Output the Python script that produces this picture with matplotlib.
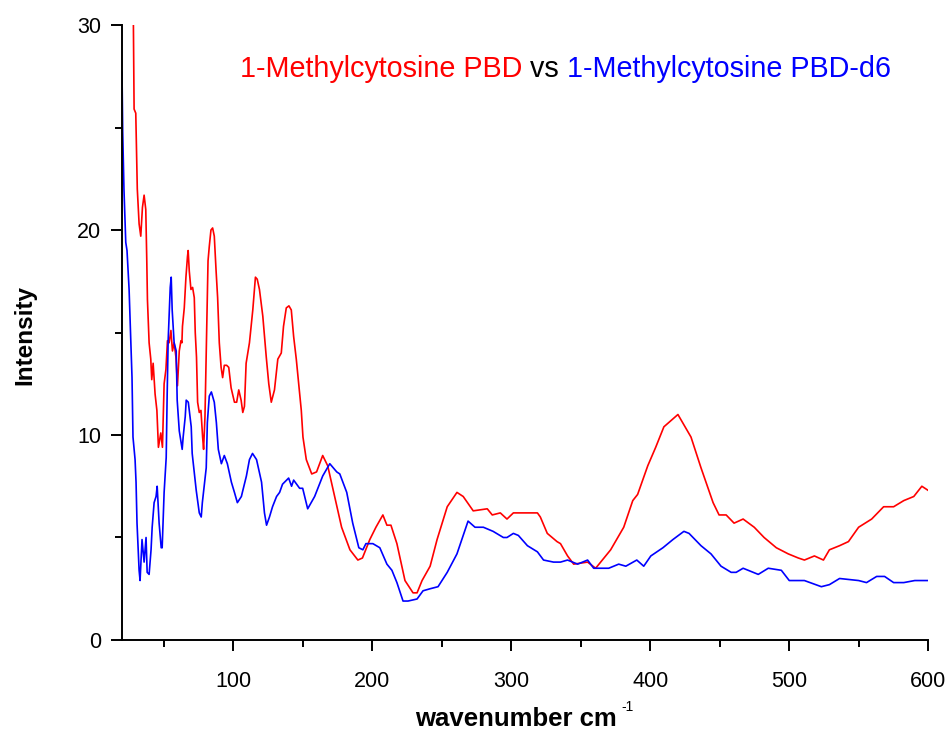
import matplotlib
matplotlib.use('Agg')
import matplotlib.pyplot as plt
from matplotlib.ticker import MultipleLocator

plt.rcParams['font.family'] = ['Liberation Sans', 'DejaVu Sans']

# 1-Methylcytosine PBD (red)
red_x = [28.2, 28.7, 29.9, 30.3, 31.0, 32.3, 33.5, 34.7, 35.9, 37.1, 37.8, 38.3, 39.5, 40.7,
         41.4, 42.4, 43.8, 45.1, 46.2, 47.9, 49.1, 50.3, 51.6, 52.7, 53.9, 55.2, 56.3, 57.5,
         58.8, 59.9, 61.2, 62.4, 63.1, 63.5, 64.8, 66.0, 67.1, 67.6, 68.4, 69.6, 70.8, 72.0,
         72.7, 73.6, 74.4, 75.6, 76.8, 78.0, 78.7, 79.7, 80.9, 81.9, 82.8, 84.0, 85.2, 86.4,
         87.7, 88.8, 90.0, 91.3, 92.4, 93.6, 95.3, 96.8, 98.5, 100.9, 102.5, 104.0, 105.7,
         106.9, 108.1, 109.3, 111.7, 114.1, 116.0, 117.3, 118.9, 121.3, 123.8, 125.6, 127.4,
         129.7, 132.1, 134.6, 136.2, 138.2, 140.1, 141.8, 143.5, 145.4, 147.8, 149.0, 150.2,
         152.6, 156.5, 160.0, 164.4, 168.0, 173.0, 178.0, 184.0, 189.7, 193.0, 198.3, 202.7,
         207.7, 210.6, 213.5, 217.8, 223.6, 229.4, 232.3, 235.9, 241.7, 246.7, 254.0, 261.0,
         265.5, 272.7, 282.8, 286.4, 292.2, 297.0, 301.6, 318.9, 321.0, 326.0, 333.0, 335.5,
         340.6, 345.0, 355.0, 360.8, 364.4, 371.6, 381.0, 387.5, 391.0, 398.3, 404.0, 409.9,
         420.0, 429.4, 436.6, 445.3, 449.6, 454.7, 460.4, 466.9, 474.9, 482.0, 490.8, 499.4,
         506.6, 511.0, 518.2, 524.7, 529.0, 536.3, 542.7, 550.0, 559.4, 568.0, 575.2, 582.5,
         589.7, 595.5, 600.0]
red_y = [30.0, 25.9, 25.7, 24.4, 22.0, 20.3, 19.7, 21.1, 21.7, 21.0, 18.6, 16.6, 14.5, 13.7,
         12.7, 13.5, 12.0, 11.2, 9.4, 10.1, 9.4, 12.5, 13.2, 14.6, 14.5, 15.1, 14.1, 14.5,
         13.8, 12.4, 14.1, 14.6, 14.5, 15.3, 16.2, 17.7, 18.7, 19.0, 18.0, 17.1, 17.2, 16.7,
         15.0, 13.8, 11.6, 11.1, 11.2, 9.9, 9.3, 10.9, 15.0, 18.5, 19.2, 20.0, 20.1, 19.7,
         18.0, 16.7, 14.5, 13.3, 12.8, 13.4, 13.4, 13.3, 12.3, 11.6, 11.6, 12.2, 11.7,
         11.1, 11.4, 13.5, 14.5, 16.1, 17.7, 17.6, 17.1, 15.8, 13.8, 12.5, 11.6,
         12.2, 13.7, 14.0, 15.3, 16.2, 16.3, 16.1, 14.8, 13.7, 12.0, 11.2, 9.9,
         8.8, 8.1, 8.2, 9.0, 8.5, 7.0, 5.5, 4.4, 3.9, 4.0, 4.9, 5.5,
         6.1, 5.6, 5.6, 4.7, 2.9, 2.3, 2.3, 2.9, 3.6, 4.9, 6.5, 7.2,
         7.0, 6.3, 6.4, 6.1, 6.2, 5.9, 6.2, 6.2, 6.0, 5.2, 4.8, 4.7,
         4.1, 3.7, 3.8, 3.5, 3.8, 4.4, 5.5, 6.8, 7.1, 8.5, 9.4, 10.4,
         11.0, 9.9, 8.4, 6.7, 6.1, 6.1, 5.7, 5.9, 5.5, 5.0, 4.5, 4.2,
         4.0, 3.9, 4.1, 3.9, 4.4, 4.6, 4.8, 5.5, 5.9, 6.5, 6.5, 6.8,
         7.0, 7.5, 7.3]

# 1-Methylcytosine PBD-d6 (blue)
blue_x = [20.0, 20.5, 21.4, 22.7, 23.6, 25.1, 26.5, 27.2, 27.9, 29.4, 30.1, 30.8, 32.3, 33.0,
          34.4, 35.9, 37.3, 38.1, 39.5, 40.9, 41.7, 43.1, 44.5, 45.3, 46.7, 48.2, 48.9, 50.3,
          51.8, 52.5, 53.2, 54.7, 55.4, 56.1, 57.5, 59.0, 59.7, 61.2, 63.3, 64.0, 65.5, 66.2,
          67.7, 69.8, 70.5, 73.4, 75.6, 77.0, 77.8, 80.6, 81.4, 82.8, 84.3, 86.4, 87.9, 89.3,
          91.5, 93.6, 95.8, 98.7, 100.9, 103.0, 105.9, 106.6, 109.5, 111.7, 113.9, 116.8,
          120.4, 122.5, 124.0, 126.1, 128.3, 131.2, 133.4, 135.5, 139.9, 142.0, 143.5, 147.8,
          150.0, 153.6, 158.6, 164.4, 169.5, 174.5, 176.7, 181.7, 186.0, 190.4, 193.3, 195.5,
          200.5, 205.5, 210.6, 214.2, 217.8, 222.2, 225.8, 232.3, 236.6, 241.7, 247.4, 254.0,
          261.0, 269.0, 274.0, 280.0, 287.0, 294.4, 297.0, 301.6, 305.2, 311.7, 318.9, 323.3,
          330.5, 335.5, 340.6, 347.8, 355.0, 359.4, 364.4, 370.2, 377.4, 382.5, 390.4, 395.4,
          400.5, 409.2, 416.4, 424.3, 428.0, 436.6, 443.8, 451.0, 458.3, 461.9, 466.9, 477.8,
          485.0, 494.4, 500.1, 511.0, 523.2, 529.0, 536.3, 550.0, 555.7, 563.0, 568.7, 575.2,
          582.5, 590.4, 600.0]
blue_y = [27.7, 24.8, 22.0, 19.4, 19.0, 17.1, 14.3, 12.8, 9.9, 8.8, 7.7, 5.7, 3.4, 2.9,
          4.9, 3.8, 5.0, 3.3, 3.2, 4.4, 5.5, 6.7, 7.0, 7.5, 5.7, 4.5, 4.5, 7.2,
          8.9, 12.0, 14.6, 17.2, 17.7, 16.1, 14.5, 14.1, 11.7, 10.2, 9.3, 9.9, 10.9, 11.7,
          11.6, 10.4, 9.1, 7.3, 6.2, 6.0, 6.7, 8.4, 10.6, 11.9, 12.1, 11.6, 10.6, 9.3,
          8.6, 9.0, 8.6, 7.7, 7.2, 6.7, 7.0, 7.2, 8.0, 8.8, 9.1, 8.8,
          7.7, 6.2, 5.6, 6.0, 6.5, 7.0, 7.2, 7.6, 7.9, 7.5, 7.8, 7.4,
          7.4, 6.4, 7.0, 8.0, 8.6, 8.2, 8.1, 7.2, 5.7, 4.5, 4.4, 4.7,
          4.7, 4.5, 3.7, 3.4, 2.8, 1.9, 1.9, 2.0, 2.4, 2.5, 2.6, 3.3,
          4.2, 5.8, 5.5, 5.5, 5.3, 5.0, 5.0, 5.2, 5.1, 4.6, 4.3, 3.9,
          3.8, 3.8, 3.9, 3.7, 3.9, 3.5, 3.5, 3.5, 3.7, 3.6, 3.9, 3.6,
          4.1, 4.5, 4.9, 5.3, 5.2, 4.6, 4.2, 3.6, 3.3, 3.3, 3.5, 3.2,
          3.5, 3.4, 2.9, 2.9, 2.6, 2.7, 3.0, 2.9, 2.8, 3.1, 3.1, 2.8,
          2.8, 2.9, 2.9]

title_parts = [('1-Methylcytosine PBD', '#ff0000'), (' vs ', 'black'),
               ('1-Methylcytosine PBD-d6', '#0000ff')]

fig = plt.figure(figsize=(9.48, 7.32), dpi=100)
ax = fig.add_axes([0.1287, 0.1257, 0.8503, 0.8401])
ax.plot(red_x, red_y, color='#ff0000', lw=1.2)
ax.plot(blue_x, blue_y, color='#0000ff', lw=1.2)

ax.set_xlim(20, 600)
ax.set_ylim(0, 30)
ax.xaxis.set_major_locator(MultipleLocator(100))
ax.xaxis.set_minor_locator(MultipleLocator(50))
ax.yaxis.set_major_locator(MultipleLocator(10))
ax.yaxis.set_minor_locator(MultipleLocator(5))
for s in ('top', 'right'):
    ax.spines[s].set_visible(False)
for s in ('left', 'bottom'):
    ax.spines[s].set_linewidth(1.4)
ax.tick_params(which='major', direction='out', length=8, width=1.4, labelsize=15.5, pad=7)
ax.tick_params(axis='x', which='major', pad=14)
ax.tick_params(which='minor', direction='out', length=5, width=1.4)

ax.set_xlabel('wavenumber cm', fontsize=18.5, fontweight='bold')
ax.xaxis.set_label_coords(0.489, -0.128)
ax.xaxis.label.set_va('center')
ax.set_ylabel('Intensity', fontsize=17.5, fontweight='bold')
ax.yaxis.set_label_coords(-0.121, 0.496)
ax.yaxis.label.set_va('center')

fig.canvas.draw()
r = fig.canvas.get_renderer()

# small superscript after the x label
bb = ax.xaxis.label.get_window_extent(r)
fig.text((bb.x1 + 4) / 948, (bb.y1 + 7) / 732, '-1', fontsize=10, va='top', ha='left')

# multi-coloured title, placed piece by piece
x0 = 240
for txt, col in title_parts:
    t = fig.text(x0 / 948, 1 - 69 / 732, txt, color=col, fontsize=20.7, va='center', ha='left')
    x0 += t.get_window_extent(r).width

fig.savefig('out.png', dpi=100)
